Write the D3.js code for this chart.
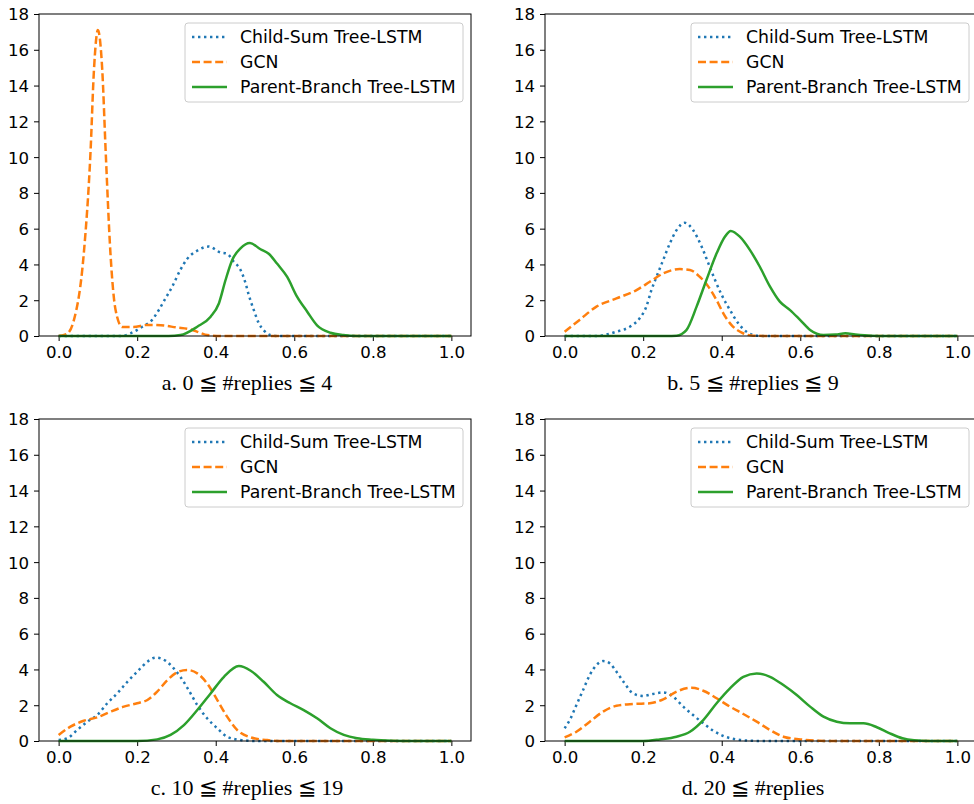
<!DOCTYPE html>
<html>
<head>
<meta charset="utf-8">
<script src="https://cdn.jsdelivr.net/npm/d3@7"></script>
<style>
  body { margin: 0; background: #fff; }
  svg { display: block; }
  .tick text { font-family: "DejaVu Sans", sans-serif; font-size: 16.6px; fill: #000; }
  .legend text { font-family: "DejaVu Sans", sans-serif; font-size: 17.3px; fill: #000; }
  .caption { font-family: "Liberation Serif", "Times New Roman", serif; font-size: 22px; fill: #000; }
</style>
</head>
<body>
<script>
const W = 974, H = 804;

const seriesNames = ["Child-Sum Tree-LSTM", "GCN", "Parent-Branch Tree-LSTM"];
const xTicks = [0, 0.2, 0.4, 0.6, 0.8, 1.0];
const yTicks = [0, 2, 4, 6, 8, 10, 12, 14, 16, 18];
const captions = ["a. 0 \u2266 #replies \u2266 4", "b. 5 \u2266 #replies \u2266 9",
                  "c. 10 \u2266 #replies \u2266 19", "d. 20 \u2266 #replies"];

// [x, density]
const aChildSum = [[0,0],[0.16,0],[0.183,0.15],[0.213,0.52],[0.238,0.9],[0.255,1.45],[0.272,2.1],[0.289,2.75],[0.31,3.7],[0.327,4.3],[0.353,4.77],[0.382,5.0],[0.412,4.67],[0.429,4.6],[0.446,4.15],[0.463,3.7],[0.476,2.95],[0.484,2.3],[0.497,1.45],[0.51,0.7],[0.522,0.33],[0.54,0.05],[0.56,0],[1,0]];
const aGcn = [[0,0],[0.02,0.1],[0.039,0.9],[0.064,4.6],[0.081,10.2],[0.09,14.9],[0.1,17.1],[0.111,14.9],[0.12,10.2],[0.132,4.6],[0.145,1.45],[0.162,0.5],[0.19,0.5],[0.226,0.62],[0.26,0.6],[0.30,0.48],[0.336,0.37],[0.36,0.18],[0.378,0.05],[0.42,0],[1,0]];
const aParent = [[0,0],[0.28,0],[0.31,0.05],[0.353,0.52],[0.387,1.08],[0.408,1.82],[0.425,3.13],[0.442,4.25],[0.463,4.9],[0.487,5.2],[0.514,4.85],[0.535,4.6],[0.556,4.05],[0.582,3.3],[0.607,2.2],[0.633,1.36],[0.658,0.6],[0.692,0.18],[0.725,0.05],[0.76,0],[1,0]];

const bChildSum = [[0,0],[0.08,0],[0.132,0.24],[0.166,0.52],[0.191,0.99],[0.208,1.64],[0.221,2.57],[0.234,3.31],[0.251,4.25],[0.268,5.18],[0.285,5.92],[0.306,6.33],[0.327,5.92],[0.349,4.99],[0.366,4.06],[0.383,3.13],[0.4,2.29],[0.421,1.45],[0.442,0.71],[0.463,0.24],[0.489,0.02],[0.52,0],[1,0]];
const bGcn = [[0,0.24],[0.038,0.9],[0.081,1.64],[0.132,2.1],[0.183,2.57],[0.217,3.03],[0.251,3.5],[0.293,3.74],[0.319,3.69],[0.344,3.31],[0.366,2.76],[0.387,2.0],[0.404,1.27],[0.425,0.61],[0.451,0.19],[0.48,0.02],[0.52,0],[1,0]];
const bParent = [[0,0],[0.26,0],[0.285,0.02],[0.31,0.33],[0.336,1.64],[0.361,3.13],[0.387,4.62],[0.408,5.55],[0.423,5.87],[0.446,5.55],[0.472,4.8],[0.497,3.87],[0.523,2.76],[0.548,1.92],[0.574,1.45],[0.6,0.89],[0.625,0.34],[0.659,0.06],[0.69,0.08],[0.715,0.15],[0.74,0.08],[0.78,0.01],[0.82,0],[1,0]];

const cChildSum = [[0,0.05],[0.022,0.15],[0.047,0.61],[0.073,1.08],[0.098,1.45],[0.124,2.11],[0.149,2.66],[0.175,3.31],[0.2,3.87],[0.226,4.43],[0.247,4.66],[0.272,4.49],[0.293,4.06],[0.31,3.59],[0.331,2.85],[0.353,2.01],[0.378,1.27],[0.404,0.71],[0.429,0.24],[0.463,0.06],[0.5,0],[1,0]];
const cGcn = [[0,0.34],[0.03,0.8],[0.064,1.13],[0.098,1.32],[0.132,1.64],[0.166,1.92],[0.2,2.11],[0.226,2.29],[0.251,2.76],[0.277,3.41],[0.302,3.84],[0.327,3.97],[0.353,3.78],[0.378,3.22],[0.404,2.29],[0.429,1.36],[0.455,0.61],[0.489,0.2],[0.531,0.05],[0.58,0],[1,0]];
const cParent = [[0,0],[0.2,0],[0.251,0.09],[0.285,0.34],[0.319,0.89],[0.353,1.73],[0.387,2.66],[0.421,3.59],[0.459,4.19],[0.489,3.93],[0.522,3.31],[0.556,2.57],[0.59,2.11],[0.624,1.73],[0.658,1.27],[0.692,0.71],[0.726,0.34],[0.76,0.15],[0.8,0.07],[0.85,0.02],[0.9,0],[1,0]];

const dChildSum = [[0,0.71],[0.013,1.17],[0.03,2.01],[0.047,2.85],[0.064,3.69],[0.081,4.25],[0.098,4.47],[0.115,4.34],[0.132,3.87],[0.153,3.22],[0.174,2.66],[0.2,2.52],[0.225,2.63],[0.251,2.72],[0.276,2.48],[0.302,1.92],[0.327,1.45],[0.353,0.99],[0.378,0.58],[0.404,0.28],[0.438,0.09],[0.48,0.01],[0.52,0],[1,0]];
const dGcn = [[0,0.2],[0.03,0.52],[0.064,1.08],[0.098,1.64],[0.132,1.97],[0.174,2.07],[0.217,2.11],[0.251,2.33],[0.285,2.76],[0.323,2.98],[0.353,2.81],[0.387,2.39],[0.421,1.92],[0.455,1.51],[0.489,1.08],[0.523,0.61],[0.557,0.24],[0.6,0.09],[0.65,0.01],[0.7,0],[1,0]];
const dParent = [[0,0],[0.2,0],[0.242,0.09],[0.285,0.24],[0.319,0.52],[0.353,1.17],[0.387,2.11],[0.421,2.94],[0.455,3.59],[0.489,3.78],[0.523,3.59],[0.557,3.13],[0.591,2.57],[0.625,1.92],[0.659,1.36],[0.693,1.08],[0.727,0.99],[0.761,0.99],[0.795,0.77],[0.825,0.46],[0.86,0.15],[0.89,0.04],[0.93,0],[1,0]];

const panelData = [
    [aChildSum, aGcn, aParent],
    [bChildSum, bGcn, bParent],
    [cChildSum, cGcn, cParent],
    [dChildSum, dGcn, dParent]
];

const colors = ["#1f77b4", "#ff7f0e", "#2ca02c"];
const dashes = ["2.4,3.6", "8,3.6", null];

// panel boxes (left, top) ; all axes 432 x 322
const boxes = [[39, 14], [545, 14], [39, 419], [545, 419]];
const pw = 432, ph = 322;

const svg = d3.select("body").append("svg")
    .attr("width", W)
    .attr("height", H);

boxes.forEach((b, p) => {
    const [left, top] = b;
    const x = d3.scaleLinear().domain([-0.05, 1.05]).range([left, left + pw]);
    const y = d3.scaleLinear().domain([0, 18]).range([top + ph, top]);

    const g = svg.append("g");

    // axes
    g.append("g")
        .attr("transform", `translate(0,${top + ph})`)
        .call(d3.axisBottom(x).tickValues(xTicks).tickFormat(d3.format(".1f")).tickSize(5).tickPadding(5))
        .call(s => s.select(".domain").remove())
        .call(s => s.selectAll("line").attr("stroke", "#000"));
    g.append("g")
        .attr("transform", `translate(${left},0)`)
        .call(d3.axisLeft(y).tickValues(yTicks).tickSize(5).tickPadding(5))
        .call(s => s.select(".domain").remove())
        .call(s => s.selectAll("line").attr("stroke", "#000"))
        .call(s => s.selectAll("text").attr("dy", "0.36em"));

    // curves
    const line = d3.line()
        .x(d => x(d[0]))
        .y(d => y(d[1]))
        .curve(d3.curveMonotoneX);
    panelData[p].forEach((s, i) => {
        g.append("path")
            .attr("d", line(s))
            .attr("fill", "none")
            .attr("stroke", colors[i])
            .attr("stroke-width", 2.5)
            .attr("stroke-dasharray", dashes[i]);
    });

    // frame
    g.append("rect")
        .attr("x", left).attr("y", top)
        .attr("width", pw).attr("height", ph)
        .attr("fill", "none")
        .attr("stroke", "#000")
        .attr("stroke-width", 1);

    // legend
    const lg = g.append("g").attr("class", "legend")
        .attr("transform", `translate(${left + pw - 286},${top + 9})`);
    lg.append("rect")
        .attr("width", 278).attr("height", 79)
        .attr("rx", 3)
        .attr("fill", "#fff").attr("fill-opacity", 0.8)
        .attr("stroke", "#ccc");
    seriesNames.forEach((n, i) => {
        const yy = 14 + i * 25;
        lg.append("line")
            .attr("x1", 7).attr("x2", 42)
            .attr("y1", yy).attr("y2", yy)
            .attr("stroke", colors[i])
            .attr("stroke-width", 2.5)
            .attr("stroke-dasharray", dashes[i]);
        lg.append("text")
            .attr("x", 55).attr("y", yy)
            .attr("dy", "0.36em")
            .text(n);
    });

    // caption
    g.append("text")
        .attr("class", "caption")
        .attr("x", left + 208)
        .attr("y", top + ph + 54)
        .attr("text-anchor", "middle")
        .text(captions[p]);
});
</script>
</body>
</html>
